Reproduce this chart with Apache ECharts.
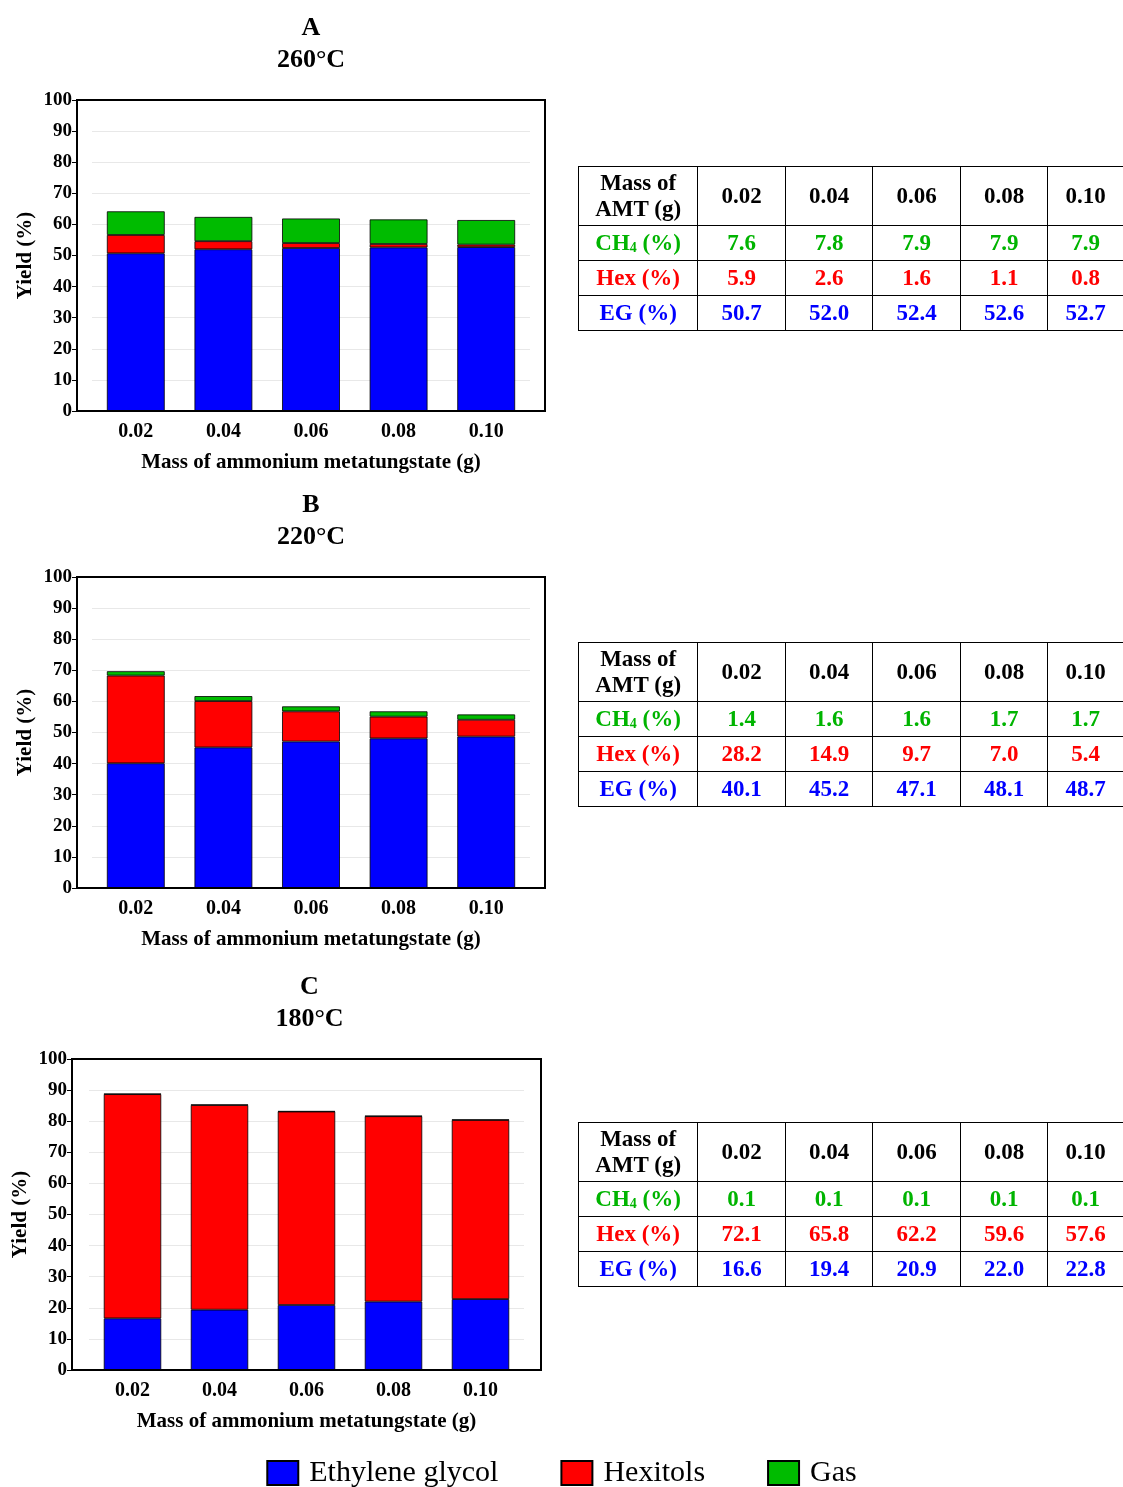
<!DOCTYPE html>
<html><head><meta charset="utf-8">
<script src="https://cdn.jsdelivr.net/npm/echarts@6/dist/echarts.min.js"></script>
<style>
body{margin:0;background:#fff;font-family:"Liberation Serif","Times New Roman",serif}
#c{width:1123px;height:1487px;position:absolute;left:0;top:0}
table{position:absolute;left:578px;border-collapse:collapse;font-weight:bold;font-size:23px;text-align:center}
td{border:1px solid #000;padding:0;height:34px}
td.h{height:58px;line-height:26px}
td:first-child{width:119px}
td{width:87px}
tr td:last-child{border-right:none;width:75px}
.g{color:#00b400}.r{color:#f00}.b{color:#0000ff}
</style></head><body>
<div id="c"></div>
<div id="tables"></div>
<script>
const cats=['0.02','0.04','0.06','0.08','0.10'];
const egA=[50.7,52.0,52.4,52.6,52.7], hexA=[5.9,2.6,1.6,1.1,0.8], gasA=[7.6,7.8,7.9,7.9,7.9];
const egB=[40.1,45.2,47.1,48.1,48.7], hexB=[28.2,14.9,9.7,7.0,5.4], gasB=[1.4,1.6,1.6,1.7,1.7];
const egC=[16.6,19.4,20.9,22.0,22.8], hexC=[72.1,65.8,62.2,59.6,57.6], gasC=[0.1,0.1,0.1,0.1,0.1];
const panels=[
 {t:'A',temp:'260°C',eg:egA,hex:hexA,gas:gasA,top:100,left:77,right:545,step:87.6,ty:166},
 {t:'B',temp:'220°C',eg:egB,hex:hexB,gas:gasB,top:577,left:77,right:545,step:87.6,ty:642},
 {t:'C',temp:'180°C',eg:egC,hex:hexC,gas:gasC,top:1059,left:72,right:541,step:87,ty:1122}
];
const F='"Liberation Serif","Times New Roman",serif';
const grid=[],xAxis=[],yAxis=[],series=[],title=[],graphic=[];
panels.forEach((p,i)=>{
 const cx=(p.left+p.right)/2, w=p.step*5, gl=cx-w/2;
 grid.push({left:gl,width:w,top:p.top,height:311});
 title.push({text:p.t+'\n'+p.temp,left:i==2?cx-2:cx-5,top:p.top-93,textAlign:'center',
  textStyle:{fontFamily:F,fontSize:26,fontWeight:'bold',color:'#000',lineHeight:32}});
 xAxis.push({type:'category',gridIndex:i,data:cats,name:'Mass of ammonium metatungstate (g)',nameLocation:'middle',nameGap:41,
  nameTextStyle:{fontFamily:F,fontSize:21,fontWeight:'bold',color:'#000'},
  axisLine:{show:false},axisTick:{show:false},
  axisLabel:{fontFamily:F,fontSize:20,fontWeight:'bold',color:'#000',margin:11},
  splitLine:{show:false}});
 yAxis.push({type:'value',gridIndex:i,min:0,max:100,interval:10,name:'Yield (%)',nameLocation:'middle',nameGap:41,offset:gl-p.left,
  nameTextStyle:{fontFamily:F,fontSize:21,fontWeight:'bold',color:'#000'},
  axisLine:{show:false},axisTick:{show:true,length:5,lineStyle:{color:'#000'}},
  axisLabel:{fontFamily:F,fontSize:19,fontWeight:'bold',color:'#000',margin:5},
  splitLine:{lineStyle:{color:'#e8e8e8'}}});
 [['Ethylene glycol',p.eg,'#0000ff'],['Hexitols',p.hex,'#ff0000'],['Gas',p.gas,'#00bb00']].forEach(s=>{
  series.push({name:s[0],type:'bar',stack:'s'+i,xAxisIndex:i,yAxisIndex:i,data:s[1],barWidth:'66%',
   itemStyle:{color:s[2],borderColor:'#000',borderWidth:0.8}});
 });
 graphic.push({type:'rect',shape:{x:p.left,y:p.top,width:p.right-p.left,height:311},silent:true,z:100,
  style:{fill:'none',stroke:'#000',lineWidth:2}});
});
const ch=echarts.init(document.getElementById('c'));
ch.setOption({animation:false,title,grid,xAxis,yAxis,series,graphic,
 legend:{bottom:-6,left:'center',icon:'rect',itemWidth:31,itemHeight:24,itemGap:62,
  textStyle:{fontFamily:F,fontSize:30,color:'#000',padding:[0,0,0,6]},data:['Ethylene glycol','Hexitols','Gas']}});
let h='';
panels.forEach(p=>{
 h+=`<table style="top:${p.ty}px"><tr><td class="h">Mass of<br>AMT (g)</td>${cats.map(c=>`<td class="h">${c}</td>`).join('')}</tr>`+
 `<tr class="g"><td>CH<sub style="font-size:14px;vertical-align:-2px">4</sub> (%)</td>${p.gas.map(v=>`<td>${v.toFixed(1)}</td>`).join('')}</tr>`+
 `<tr class="r"><td>Hex (%)</td>${p.hex.map(v=>`<td>${v.toFixed(1)}</td>`).join('')}</tr>`+
 `<tr class="b"><td>EG (%)</td>${p.eg.map(v=>`<td>${v.toFixed(1)}</td>`).join('')}</tr></table>`;
});
document.getElementById('tables').innerHTML=h;
</script></body></html>
